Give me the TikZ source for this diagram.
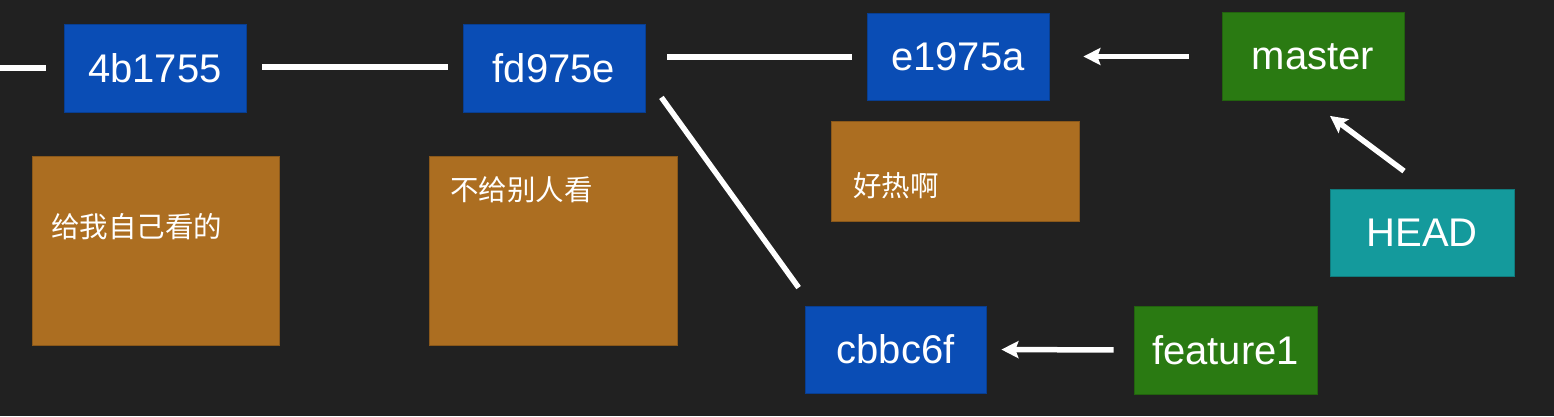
\documentclass[tikz,border=0pt]{standalone}
\usepackage{fontspec}
\setmainfont{Liberation Sans}
\newfontfamily\cjk{Noto Sans CJK SC}
\usetikzlibrary{arrows.meta}
\definecolor{bgc}{HTML}{212121}
\definecolor{commitc}{HTML}{0A4DB5}
\definecolor{branchc}{HTML}{2A7A12}
\definecolor{headc}{HTML}{149A9C}
\definecolor{notec}{HTML}{AC6E21}
\tikzset{
  box/.style={inner sep=0pt, text=white, font=\fontsize{40}{48}\selectfont},
  commit/.style={box, fill=commitc, draw=commitc!80!black, line width=0.8pt},
  branch/.style={box, fill=branchc, draw=branchc!80!black, line width=0.8pt},
  headbox/.style={box, fill=headc, draw=headc!80!black, line width=0.8pt},
  note/.style={inner sep=0pt, fill=notec, draw=notec!80!black, line width=0.8pt},
  notetext/.style={inner sep=0pt, anchor=west, text=white, font=\cjk\fontsize{28.5}{34}\selectfont},
  link/.style={draw=white, line width=5.5pt},
  pointer/.style={link, -{Stealth[length=17pt,width=17pt,inset=3pt]}},
}
\begin{document}
\begin{tikzpicture}[x=1pt,y=-1pt]
\fill[bgc] (0,0) rectangle (1554,416);
\useasboundingbox (0,0) rectangle (1554,416);

% notes
\node[note, minimum width=247pt, minimum height=189pt] (n1) at (155.5,250.5) {};
\node[note, minimum width=248pt, minimum height=189pt] (n2) at (553,250.5) {};
\node[note, minimum width=248pt, minimum height=100pt] (n3) at (955,171) {};
\node[notetext] (n1t) at (51,227) {给我自己看的};
\node[notetext] (n2t) at (450,190) {不给别人看};
\node[notetext] (n3t) at (853,186) {好热啊};

% commits
\node[commit, minimum width=182pt, minimum height=88pt] (c1) at (155,68) {4b1755};
\node[commit, minimum width=182pt, minimum height=88pt] (c2) at (554,68) {fd975e};
\node[commit, minimum width=182pt, minimum height=87pt] (c3) at (958,57) {e1975a};
\node[commit, minimum width=181pt, minimum height=87pt] (c4) at (895.5,349.5) {cbbc6f};

% branches
\node[branch, minimum width=182pt, minimum height=88pt] (master) at (1313,56.5) {master};
\node[branch, minimum width=183pt, minimum height=88pt] (feature) at (1225.5,350) {feature1};
\node[headbox, minimum width=184pt, minimum height=87pt] (head) at (1422,233) {HEAD};

% history links
\coordinate (prev) at (0,68);
\draw[link] (prev) -- ([xshift=-18pt]c1.west);
\draw[link] ([xshift=16pt]c1.east |- 0,67) -- ([xshift=-15pt]c2.west |- 0,67);
\draw[link] ([xshift=22pt]c2.east |- 0,57) -- ([xshift=-15pt]c3.west);
\draw[link] ([shift={(16,-15)}]c2.south east) -- ([shift={(-6,-18)}]c4.north west);

% pointers
\draw[pointer, shorten <=33pt, shorten >=34pt] (master.west) -- (c3.east |- master.west);
\draw[pointer] ([shift={(-18,-18)}]head.north) -- ([shift={(17,15)}]master.south);
\draw[pointer, shorten <=20pt, shorten >=15pt] (feature.west) -- (c4.east);
\end{tikzpicture}
\end{document}
